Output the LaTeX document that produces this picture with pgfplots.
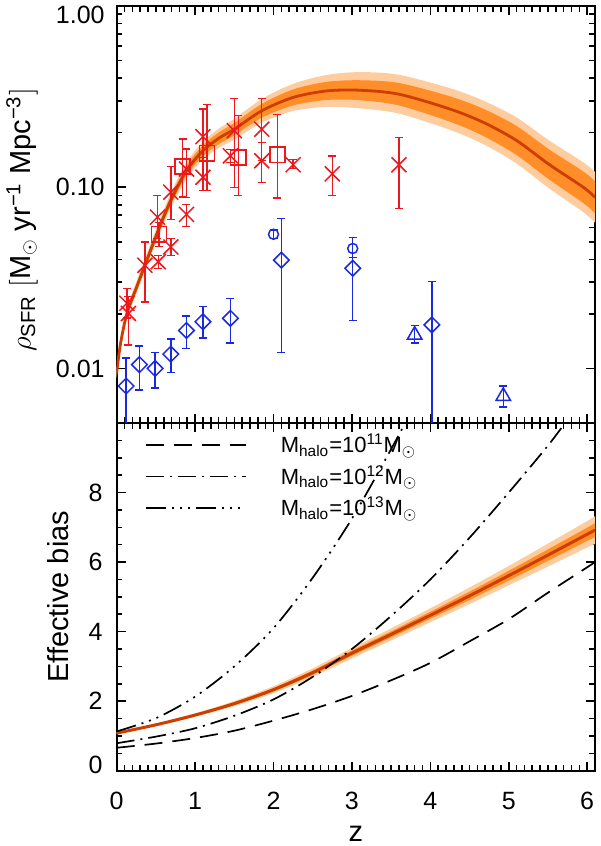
\documentclass[border=0pt]{standalone}
\usepackage{fontspec}
\setmainfont{Liberation Sans}
\usepackage{pgfplots}
\pgfplotsset{compat=1.18}
\usepackage{pgfplotstable}
\usepgfplotslibrary{fillbetween}

\definecolor{bandlight}{RGB}{253,205,160}
\definecolor{banddark}{RGB}{255,142,40}
\definecolor{fitline}{RGB}{205,62,0}
\definecolor{dred}{RGB}{235,25,30}
\definecolor{dblue}{RGB}{25,40,225}

\pgfplotstableread{
z c lu ll du dl
0 0.0095 0.01018 0.00887 0.00990 0.00911
0.05 0.0138 0.01479 0.01288 0.01438 0.01324
0.13 0.0201 0.02164 0.01867 0.02100 0.01924
0.25 0.0278 0.02999 0.02577 0.02911 0.02655
0.36 0.0371 0.04021 0.03423 0.03894 0.03535
0.53 0.0578 0.06308 0.05296 0.06094 0.05482
0.69 0.0845 0.09287 0.07689 0.08951 0.07977
0.89 0.1236 0.1371 0.1114 0.1315 0.1162
1.1 0.159 0.1784 0.1417 0.1704 0.1484
1.3 0.186 0.2101 0.1646 0.2002 0.1728
1.5 0.209 0.2383 0.1833 0.2260 0.1933
1.85 0.264 0.3066 0.2273 0.2881 0.2419
2.25 0.313 0.3720 0.2634 0.3464 0.2828
2.68 0.340 0.4164 0.2776 0.3815 0.3030
3.1 0.343 0.4318 0.2725 0.3893 0.3022
3.6 0.326 0.4171 0.2548 0.3760 0.2826
4.25 0.270 0.3519 0.2072 0.3172 0.2298
4.68 0.2275 0.2999 0.1726 0.2704 0.1914
5.1 0.181 0.2425 0.1351 0.2176 0.1505
5.51 0.134 0.1816 0.09888 0.1622 0.1107
5.95 0.100 0.1371 0.07294 0.1222 0.08185
6.1 0.088 0.1215 0.06375 0.1078 0.07186
}\topband

\pgfplotstableread{
z c lu ll du dl
0 1.08 1.10 1.06 1.09 1.07
0.5 1.32 1.355 1.285 1.338 1.302
1 1.60 1.65 1.55 1.625 1.575
1.5 1.93 2.005 1.855 1.968 1.892
2 2.33 2.43 2.23 2.38 2.28
2.5 2.82 2.945 2.695 2.883 2.757
3 3.38 3.53 3.23 3.455 3.305
3.5 3.92 4.095 3.745 4.008 3.832
4 4.47 4.67 4.27 4.57 4.37
4.5 5.03 5.27 4.79 5.15 4.91
5 5.61 5.89 5.33 5.75 5.47
5.5 6.20 6.53 5.87 6.365 6.035
6 6.80 7.18 6.42 6.99 6.61
6.1 6.92 7.32 6.52 7.12 6.72
}\botband

\pgfplotsset{
  idl/.style={
    scale only axis, width=239.15pt,
    xmin=0, xmax=6.1, xtick={0,1,2,3,4,5,6}, minor x tick num=9,
    tick align=inside, major tick length=4.5pt, minor tick length=2.8pt,
    every tick/.style={black, line width=0.8pt},
    axis line style={line width=1pt},
    tick label style={font=\fontsize{12.5}{14}\selectfont},
    label style={font=\fontsize{14.5}{17}\selectfont},
    /pgf/number format/assume math mode=true,
  },
  errsty/.style={only marks, #1, line width=0.75pt,
    error bars/y dir=both, error bars/y explicit,
    error bars/error bar style={line width=0.7pt, #1},
    error bars/error mark options={rotate=90, mark size=2pt, line width=0.7pt, #1}},
}

\begin{document}
\begin{tikzpicture}

% ---------------- top panel ----------------
\begin{axis}[idl, name=top, at={(58.35pt,211.5pt)}, anchor=south west,
  height=208.5pt, ymode=log, ymin=0.005, ymax=1,
  ytick={0.01,0.1,1}, yticklabels={0.01,0.10,{}},
  xticklabels={},
  yticklabel style={inner sep=0pt, xshift=-5.85pt},
  ylabel={$\rho$\textsubscript{SFR} $\bigl[$M\textsubscript{$\odot$} yr\textsuperscript{−1} Mpc\textsuperscript{−3}$\bigr]$},
  ylabel style={at={(axis description cs:-0.198,0.487)}, anchor=center},
]
\addplot[name path=tlu, draw=none, smooth, forget plot] table[x=z, y=lu] {\topband};
\addplot[name path=tll, draw=none, smooth, forget plot] table[x=z, y=ll] {\topband};
\addplot[bandlight, forget plot] fill between[of=tlu and tll];
\addplot[name path=tdu, draw=none, smooth, forget plot] table[x=z, y=du] {\topband};
\addplot[name path=tdl, draw=none, smooth, forget plot] table[x=z, y=dl] {\topband};
\addplot[banddark, forget plot] fill between[of=tdu and tdl];
\addplot[fitline, line width=1.4pt, smooth, forget plot] table[x=z, y=c] {\topband};

% red crosses
\addplot[errsty=dred, mark=x, mark size=5.3pt] coordinates {
 (0.13,0.0229) += (0,0.0048) -= (0,0.0039)
 (0.15,0.0201) += (0,0.0049) -= (0,0.0066)
 (0.36,0.0371) += (0,0.0128) -= (0,0.0138)
 (0.52,0.0684) += (0,0.0216) -= (0,0.0164)
 (0.53,0.0388) += (0,0.0032) -= (0,0.0032)
 (0.69,0.0939) += (0,0.0361) -= (0,0.0277)
 (0.69,0.0468) += (0,0.0052) -= (0,0.0048)
 (0.89,0.126) += (0,0.0365) -= (0,0.038)
 (0.89,0.0708) += (0,0.0097) -= (0,0.010)
 (1.10,0.190) += (0,0.080) -= (0,0.050)
 (1.10,0.1135) += (0,0.0325) -= (0,0.0175)
 (1.50,0.205) += (0,0.103) -= (0,0.105)
 (1.45,0.149) += (0,0.013) -= (0,0.012)
 (1.85,0.209) += (0,0.099) -= (0,0.069)
 (1.85,0.140) += (0,0.037) -= (0,0.034)
 (2.25,0.133) += (0,0.009) -= (0,0.006)
 (2.75,0.1185) += (0,0.0305) -= (0,0.0285)
 (3.60,0.133) += (0,0.055) -= (0,0.0569)
};
% red squares
\addplot[errsty=dred, mark=square, mark size=3.8pt] coordinates {
 (0.54,0.0550) += (0,0.009) -= (0,0.008)
 (0.84,0.130) += (0,0.0545) -= (0,0.0419)
 (1.15,0.154) += (0,0.133) -= (0,0.058)
 (1.55,0.146) += (0,0.102) -= (0,0.056)
 (2.05,0.151) += (0,0.100) -= (0,0.0636)
};
% blue diamonds
\addplot[errsty=dblue, mark=square, mark size=2.75pt, mark options={rotate=45}] coordinates {
 (0.12,0.0080) += (0,0.0034) -= (0,0.0050)
 (0.29,0.0105) += (0,0.0028) -= (0,0.0029)
 (0.49,0.0100) += (0,0.0022) -= (0,0.0022)
 (0.69,0.0120) += (0,0.0025) -= (0,0.0025)
 (0.89,0.0162) += (0,0.0033) -= (0,0.0033)
 (1.10,0.0181) += (0,0.0038) -= (0,0.0034)
 (1.45,0.0189) += (0,0.0055) -= (0,0.0051)
 (2.10,0.0396) += (0,0.0274) -= (0,0.02735)
 (3.01,0.0357) += (0,0.0170) -= (0,0.0173)
 (4.02,0.0174) += (0,0.0127) -= (0,0.0164)
};
% blue circles
\addplot[errsty=dblue, mark=o, mark size=2.5pt] coordinates {
 (2.00,0.055) += (0,0.003) -= (0,0.003)
 (3.01,0.0459) += (0,0.0068) -= (0,0.005)
};
% blue triangles
\addplot[errsty=dblue, mark=triangle, mark size=4.2pt] coordinates {
 (3.80,0.0153) += (0,0.0019) -= (0,0.0015)
 (4.93,0.00702) += (0,0.0010) -= (0,0.0009)
};
\end{axis}

% ---------------- bottom panel ----------------
\begin{axis}[idl, name=bot, at={(58.35pt,37.65pt)}, anchor=south west,
  height=173.85pt, ymin=0, ymax=10,
  ytick={0,2,4,6,8,10}, yticklabels={{},2,4,6,8,{}}, minor y tick num=3,
  xticklabel style={inner sep=0pt, yshift=-10.65pt},
  yticklabel style={inner sep=0pt, xshift=-6.85pt},
  xlabel={z}, ylabel={Effective bias},
  xlabel style={at={(axis description cs:0.5,0)}, anchor=center, yshift=-31.8pt},
  ylabel style={at={(axis description cs:-0.1227,0.5)}, anchor=center},
  legend cell align=left,
  legend image code/.code={\draw[#1] (0pt,0pt) -- (50pt,0pt); \path[draw=none] (0pt,0pt) -- (67.5pt,0pt);},
  legend style={at={(axis description cs:0,1)}, anchor=north west,
    xshift=14.15pt, yshift=-5.1pt, draw=none, fill=none,
    inner sep=0pt, outer sep=0pt, row sep=3.95pt, /tikz/column sep=0pt,
    nodes={inner sep=0pt, text height=9.8pt, text depth=2pt, anchor=west,
      font=\fontsize{11}{13}\selectfont}},
]
\addplot[name path=blu, draw=none, smooth, forget plot] table[x=z, y=lu] {\botband};
\addplot[name path=bll, draw=none, smooth, forget plot] table[x=z, y=ll] {\botband};
\addplot[bandlight, forget plot] fill between[of=blu and bll];
\addplot[name path=bdu, draw=none, smooth, forget plot] table[x=z, y=du] {\botband};
\addplot[name path=bdl, draw=none, smooth, forget plot] table[x=z, y=dl] {\botband};
\addplot[banddark, forget plot] fill between[of=bdu and bdl];
\addplot[fitline, line width=1.5pt, smooth, forget plot] table[x=z, y=c] {\botband};

\addplot[black, line width=0.85pt, smooth, dash pattern=on 9pt off 5pt] coordinates {
 (0,0.66) (0.5,0.78) (1,0.94) (1.5,1.15) (2,1.44) (2.5,1.77) (3,2.15)
 (3.5,2.6) (4,3.1) (4.5,3.72) (5,4.36) (5.5,5.12) (6,5.85) (6.1,6.0)};
\addlegendentry{M\textsubscript{halo}=10\textsuperscript{11}M\textsubscript{$\odot$}}
\addplot[black, line width=0.85pt, smooth, dash pattern=on 9pt off 3pt on 1pt off 3pt] coordinates {
 (0,0.79) (0.5,0.98) (1,1.22) (1.5,1.58) (2,2.05) (2.5,2.70) (3,3.5)
 (3.5,4.45) (4,5.5) (4.5,6.7) (5,8.0) (5.5,9.35) (5.75,10.1)};
\addlegendentry{M\textsubscript{halo}=10\textsuperscript{12}M\textsubscript{$\odot$}}
\addplot[black, line width=0.85pt, smooth, dash pattern=on 10pt off 3pt on 1pt off 3pt on 1pt off 3pt on 1pt off 3pt] coordinates {
 (0,1.13) (0.5,1.51) (1,2.13) (1.5,3.0) (2,4.1) (2.5,5.55) (3,7.25)
 (3.5,9.25) (3.75,10.3)};
\addlegendentry{M\textsubscript{halo}=10\textsuperscript{13}M\textsubscript{$\odot$}}
\end{axis}

\node[anchor=east, inner sep=0pt, font=\fontsize{12.5}{14}\selectfont]
  at ([xshift=-5.85pt, yshift=-4.5pt]top.north west) {1.00};
\node[anchor=east, inner sep=0pt, font=\fontsize{12.5}{14}\selectfont]
  at ([xshift=-6.85pt, yshift=2.85pt]bot.south west) {0};

\pgfresetboundingbox
\path[use as bounding box] (0pt,0pt) rectangle (300pt,423pt);
\end{tikzpicture}
\end{document}
